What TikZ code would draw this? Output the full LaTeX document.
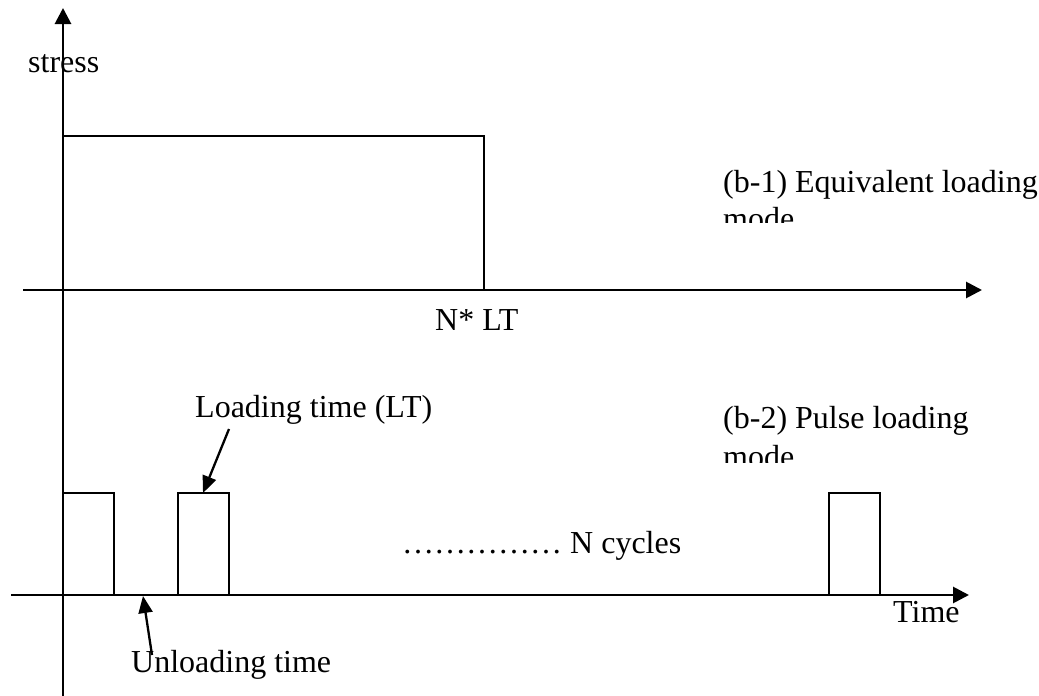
\documentclass[tikz,border=0pt]{standalone}
\usepackage{fontspec}
\setmainfont{Liberation Serif}
\usetikzlibrary{arrows.meta}
\tikzset{
  axis/.style={line width=2.8pt,-{Triangle[length=16pt,width=16pt]}},
  sig/.style={line width=1.8pt},
  pointer/.style={line width=2.3pt,-{Triangle[length=17pt,width=14pt]}},
  lbl/.style={inner sep=0pt,anchor=base west,font=\fontsize{32}{38}\selectfont},
}
\begin{document}
\begin{tikzpicture}[x=1pt,y=-1pt]
\useasboundingbox (0,0) rectangle (1039,696);
% coordinates
\coordinate (vbot) at (63,696);
\coordinate (vtop) at (63,8);
\coordinate (h1l) at (23,290);
\coordinate (h1r) at (982,290);
\coordinate (h2l) at (11,595);
\coordinate (h2r) at (969,595);
% axes
\draw[axis] (vbot) -- (vtop);
\draw[axis] (h1l) -- (h1r);
\draw[axis] (h2l) -- (h2r);
% equivalent loading rectangle
\draw[sig] (63,136) -- (484,136) -- (484,290);
% pulses
\draw[sig] (63,493) -- (114,493) -- (114,595);
\draw[sig] (178,595) -- (178,493) -- (229,493) -- (229,595);
\draw[sig] (829,595) -- (829,493) -- (880,493) -- (880,595);
% labels
\node[lbl] (stress) at (28,72) {stress};
\node[lbl] (b1) at (723,192) {(b-1) Equivalent loading};
\begin{scope}
\clip (700,150) rectangle (1039,222);
\node[lbl] (b1mode) at (723,229) {mode};
\end{scope}
\node[lbl] (nlt) at (435,330) {N* LT};
\node[lbl] (lt) at (195,417) {Loading time (LT)};
\node[lbl] (b2) at (723,428) {(b-2) Pulse loading};
\begin{scope}
\clip (700,430) rectangle (1039,462);
\node[lbl] (b2mode) at (723,467) {mode};
\end{scope}
\node[lbl] (ncyc) at (402,553) {…………… N cycles};
\node[lbl] (time) at (893,622) {Time};
\node[lbl] (ult) at (131,672) {Unloading time};
% pointers
\coordinate (ltTail) at (229,429);
\coordinate (p2top) at (203,493);
\draw[pointer] (ltTail) -- (p2top);
\coordinate (ulTail) at (152,655);
\coordinate (gap) at (143,596);
\draw[pointer] (ulTail) -- (gap);
\end{tikzpicture}
\end{document}
